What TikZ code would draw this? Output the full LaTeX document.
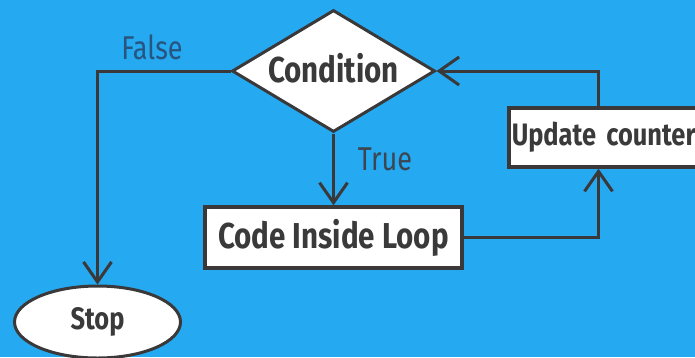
\documentclass[tikz,border=0pt]{standalone}
\usepackage{fontspec}
\setmainfont{Fira Sans}
\newfontfamily\labfont[FakeStretch=0.82]{Fira Sans}
\usetikzlibrary{shapes.geometric,arrows.meta}
\definecolor{bg}{HTML}{25A9F1}
\definecolor{ln}{HTML}{3A3838}
\definecolor{tx}{HTML}{3A3A3A}
\definecolor{fl}{HTML}{28557F}
\definecolor{tr}{HTML}{3C4650}
\begin{document}
\begin{tikzpicture}[x=1pt,y=-1pt,
  conn/.style={draw=ln,line width=3pt},
  arr/.style={conn,-{Straight Barb[length=20pt,width=28pt,line width=3pt]}},
  boxnode/.style={draw=ln,fill=white,line width=3.5pt,inner sep=0pt,text=tx,font=\labfont\bfseries},
  lbl/.style={inner sep=0pt,font=\labfont}]
\fill[bg] (0,0) rectangle (695,357);
\clip (0,0) rectangle (695,357);
\node[boxnode,diamond,minimum width=203pt,minimum height=122pt,line width=3pt,
  label={[inner sep=0pt,yshift=3pt,text=tx,font=\labfont\bfseries\fontsize{36}{38}\selectfont]center:Condition}] (cond) at (333.5,71) {};
\node[boxnode,minimum width=257pt,minimum height=61pt,font=\labfont\bfseries\fontsize{36}{38}\selectfont] (code) at (333.5,237.5) {Code Inside Loop};
\node[boxnode,anchor=west,minimum width=220pt,minimum height=59pt,align=left,text width=214pt,inner sep=3pt,font=\labfont\fontsize{31}{32}\selectfont\bfseries] (upd) at (507,137.5) {Update counter};
\node[boxnode,ellipse,minimum width=166pt,minimum height=72pt,line width=3pt,font=\labfont\bfseries\fontsize{31}{32}\selectfont] (stop) at (97.5,322) {Stop};
\coordinate (ux) at (598.5,0);
\draw[arr] (cond.west) -| (stop.north);
\draw[arr] (cond.south) -- (code.north);
\draw[arr] (code.east) -| (upd.south -| ux);
\draw[arr] (upd.north -| ux) |- (cond.east);
\node[lbl,text=fl,font=\labfont\fontsize{33}{34}\selectfont] (lf) at (152,47) {False};
\node[lbl,text=tr,font=\labfont\fontsize{33}{34}\selectfont] (lt) at (385,159) {True};
\end{tikzpicture}
\end{document}
